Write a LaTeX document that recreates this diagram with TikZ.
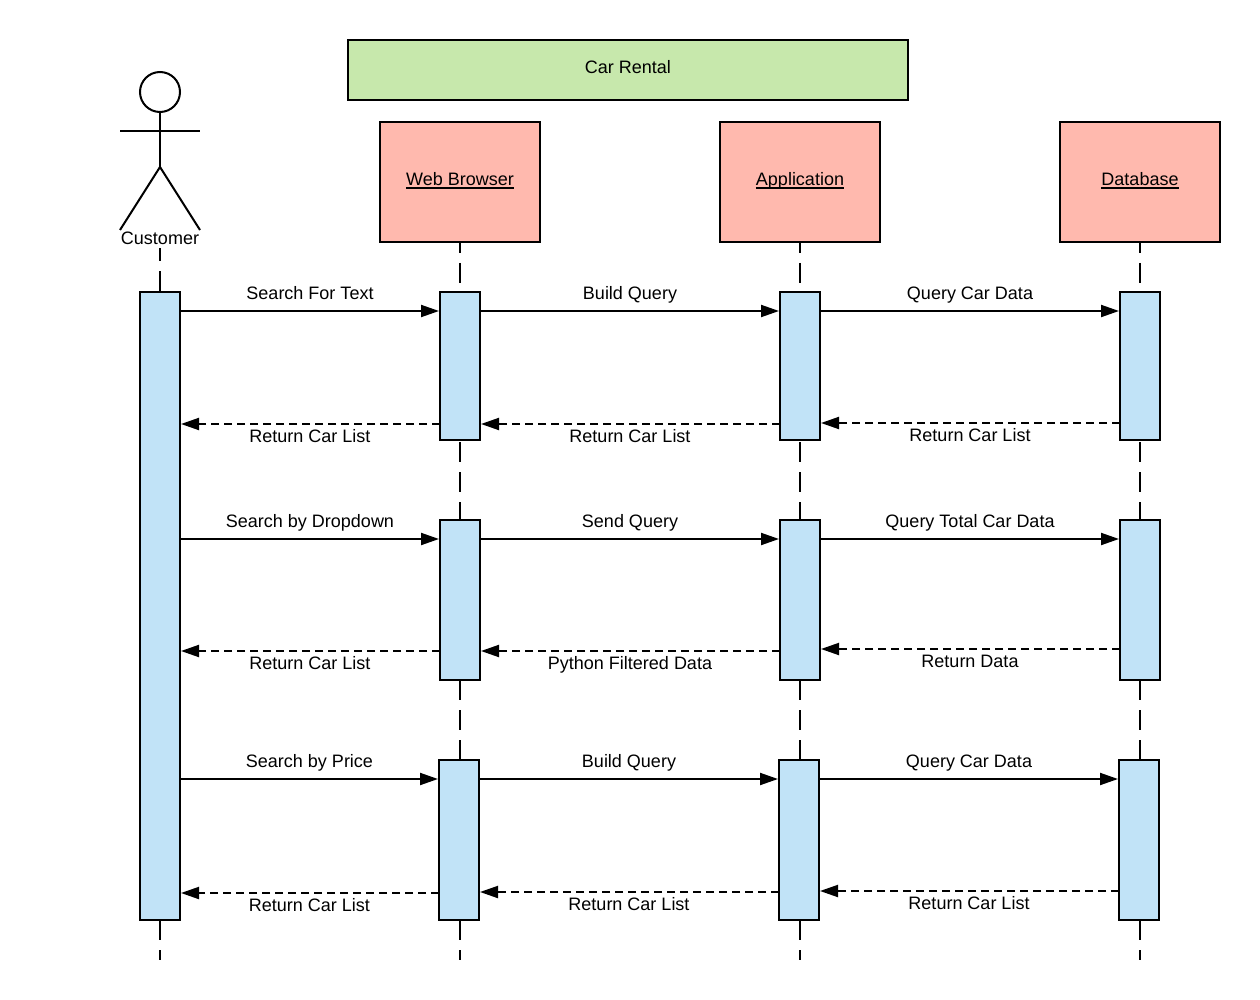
\documentclass[tikz,border=0pt]{standalone}
\usepackage{fontspec}
\setmainfont{Liberation Sans}
\usetikzlibrary{arrows.meta,positioning}

\definecolor{rentalgreen}{HTML}{C7E8AC}
\definecolor{objectred}{HTML}{FFB9AE}
\definecolor{activeblue}{HTML}{C1E3F7}

\newcommand{\ultext}[1]{\setbox0\hbox{#1}\rlap{\rule[-3pt]{\wd0}{1.6pt}}\box0}

\tikzset{
	line/.style={line width=2pt},
	box/.style={draw,line width=2pt,outer sep=0pt,font=\fontsize{18}{20}\selectfont,text height=13pt,text depth=5pt},
	objectbox/.style={box,fill=objectred,minimum width=160pt,minimum height=120pt},
	activebox/.style={draw,line width=2pt,outer sep=0pt,fill=activeblue,minimum width=40pt,anchor=north},
	lifeline/.style={line,dash pattern=on 20pt off 10pt},
	msg/.style={line,shorten >=1pt,-{Triangle[length=18pt,width=12pt]}},
	msgtext/.style={midway,inner sep=0pt,anchor=base,font=\fontsize{18}{20}\selectfont}
}

\begin{document}
\begin{tikzpicture}[x=1pt,y=-1pt]
	\useasboundingbox (0,0) rectangle (1260,1000);

	% actor
	\node[draw,circle,line width=2pt,outer sep=0pt,minimum size=40pt,inner sep=0pt] (head) at (160,92) {};
	\coordinate (hip) at (160,167);
	\coordinate (armL) at (120,131);
	\coordinate (armR) at (200,131);
	\coordinate (footL) at (120,230);
	\coordinate (footR) at (200,230);
	\draw[line] (head.south) -- (hip);
	\draw[line] (armL) -- (armR);
	\draw[line] (footL) -- (hip) -- (footR);
	\node[anchor=base,inner sep=4pt,font=\fontsize{18}{20}\selectfont] (customer) at (160,244) {Customer};

	% title and objects
	\node[box,fill=rentalgreen,minimum width=560pt,minimum height=60pt] (rental) at (628,70) {Car Rental};
	\node[objectbox] (browser) at (460,182) {\ultext{Web Browser}};
	\node[objectbox] (application) at (800,182) {\ultext{Application}};
	\node[objectbox] (database) at (1140,182) {\ultext{Database}};

	% activation bars
	\node[activebox,minimum height=628pt] (C) at (160,292) {};
	\foreach \n/\x/\ytop/\h in
		{W1/460/292/148,A1/800/292/148,D1/1140/292/148,
		 W2/460/520/160,A2/800/520/160,D2/1140/520/160,
		 W3/459/760/160,A3/799/760/160,D3/1139/760/160}
		\node[activebox,minimum height=\h] (\n) at (\x,\ytop) {};

	% lifelines
	\draw[lifeline,dash phase=7pt] (customer.south) -- (C.north);
	\draw[lifeline,dash phase=9pt] (browser.south) -- (W1.north);
	\draw[lifeline,dash phase=9pt] (application.south) -- (A1.north);
	\draw[lifeline,dash phase=9pt] (database.south) -- (D1.north);
	\foreach \i in {W,A,D}
	{
		\draw[lifeline,dash phase=28pt] (\i1.south) -- (\i2.north);
		\draw[lifeline] (\i2.south) -- (\i2.south |- \i3.north);
	}
	\coordinate (endC) at (160,960);
	\coordinate (endW) at (460,960);
	\coordinate (endA) at (800,960);
	\coordinate (endD) at (1140,960);
	\draw[lifeline] (C.south) -- (endC);
	\foreach \i in {W,A,D}
		\draw[lifeline] (end\i |- \i3.south) -- (end\i);

	% calls
	\foreach \a/\b/\ypos/\txt in
		{C/W1/311/Search For Text,W1/A1/311/Build Query,A1/D1/311/Query Car Data,
		 C/W2/539/Search by Dropdown,W2/A2/539/Send Query,A2/D2/539/Query Total Car Data,
		 C/W3/779/Search by Price,W3/A3/779/Build Query,A3/D3/779/Query Car Data}
		\draw[msg] (\a.east |- 0,\ypos) -- node[msgtext,yshift=12pt] {\txt} (\b.west |- 0,\ypos);

	% returns
	\foreach \a/\b/\ypos/\txt in
		{W1/C/424/Return Car List,A1/W1/424/Return Car List,D1/A1/423/Return Car List,
		 W2/C/651/Return Car List,A2/W2/651/Python Filtered Data,D2/A2/649/Return Data,
		 W3/C/893/Return Car List,A3/W3/892/Return Car List,D3/A3/891/Return Car List}
		\draw[msg,dashed,dash pattern=on 8pt off 5pt,-{Triangle[length=18pt,width=12pt]}] (\a.west |- 0,\ypos) -- node[msgtext,yshift=-18pt] {\txt} (\b.east |- 0,\ypos);
\end{tikzpicture}
\end{document}
